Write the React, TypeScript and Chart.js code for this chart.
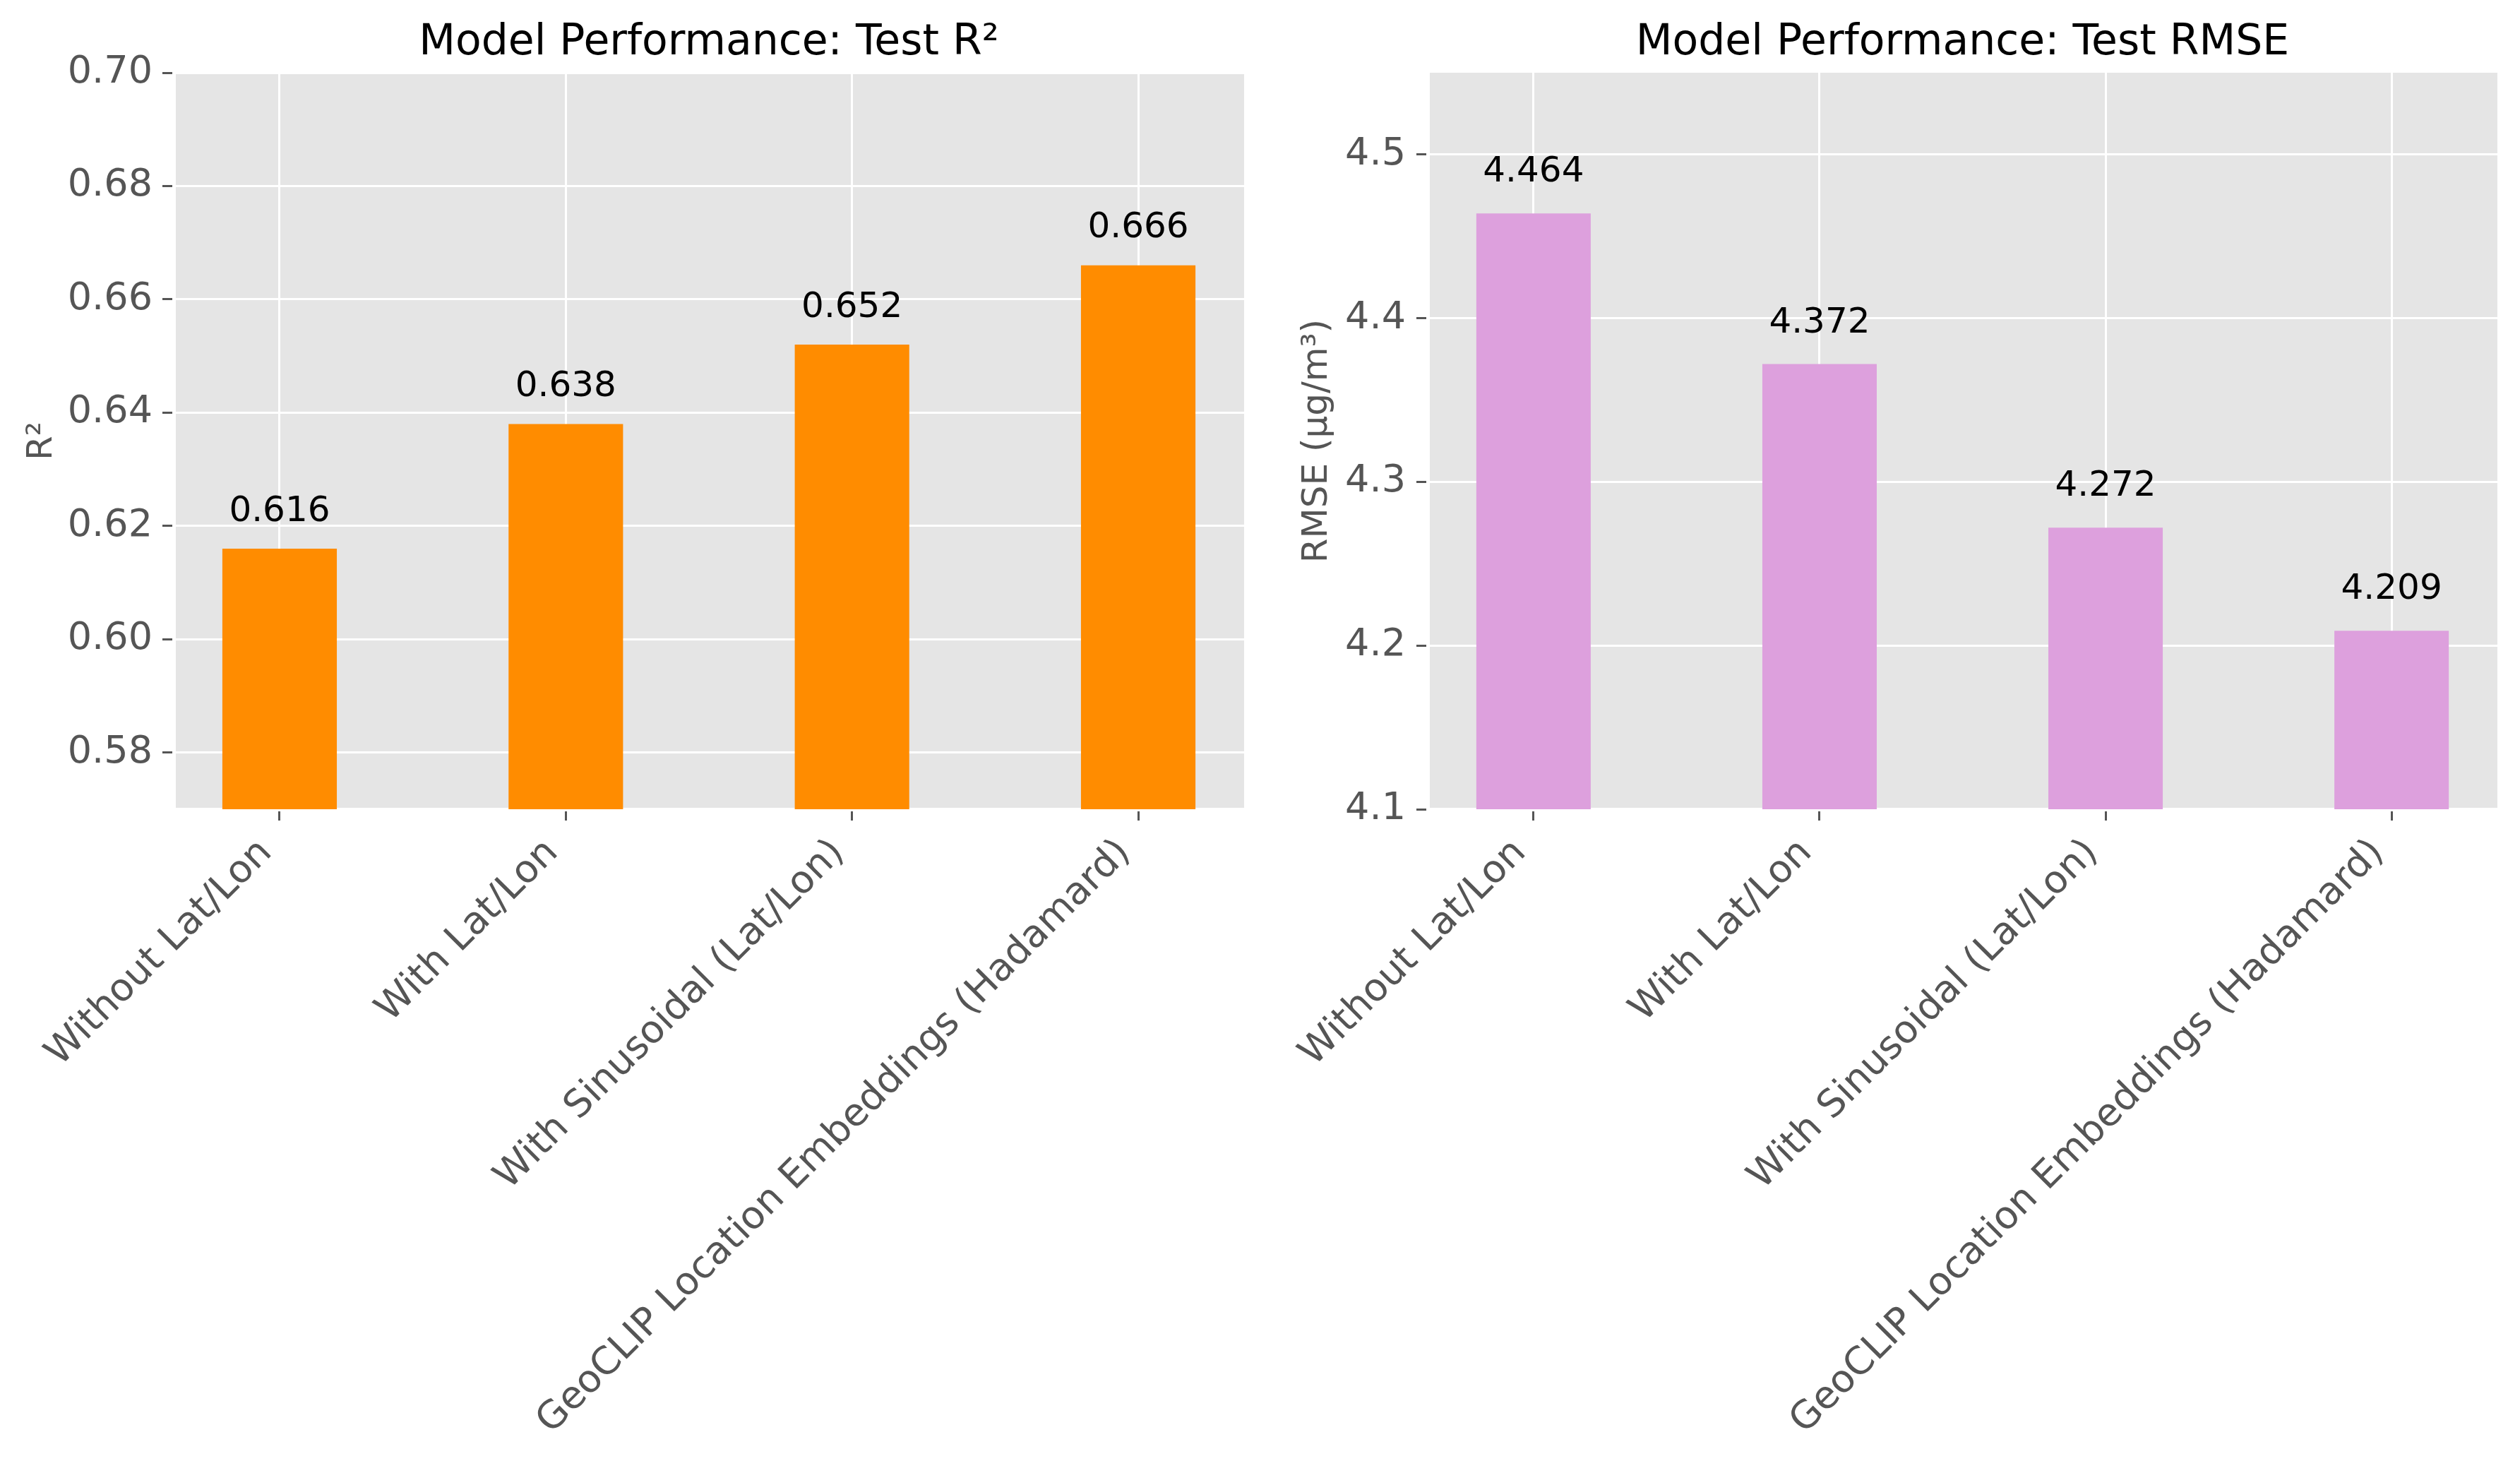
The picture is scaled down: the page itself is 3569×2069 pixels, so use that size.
import React, { useEffect, useRef } from "react";
import { Chart, registerables } from "chart.js";

Chart.register(...registerables);

// ---------- data ----------
const categories = [
  "Without Lat/Lon",
  "With Lat/Lon",
  "With Sinusoidal (Lat/Lon)",
  "GeoCLIP Location Embeddings (Hadamard)",
];
const r2Values = [0.616, 0.638, 0.652, 0.666];
const rmseValues = [4.464, 4.372, 4.272, 4.209];
const r2Ticks = [0.58, 0.6, 0.62, 0.64, 0.66, 0.68, 0.7];
const rmseTicks = [4.1, 4.2, 4.3, 4.4, 4.5];

const W = 3569;
const H = 2069;
const FONT = "'DejaVu Sans', 'Liberation Sans', sans-serif";

interface Panel {
  title: string;
  yLabel: string;
  values: number[];
  yTicks: number[];
  yMin: number;
  yMax: number;
  tickDecimals: number;
  valueDecimals: number;
  color: string;
  labelOffset: number;
  padLeft: number;
  padRight: number;
  yAxisWidth: number;
  yLabelX: number;
  tickPadding: number;
}

const panels: Panel[] = [
  {
    title: "Model Performance: Test R²",
    yLabel: "R²",
    values: r2Values,
    yTicks: r2Ticks,
    yMin: 0.57,
    yMax: 0.7,
    tickDecimals: 2,
    valueDecimals: 3,
    color: "#FF8C00",
    labelOffset: 0.0049,
    padLeft: 0,
    padRight: W - 1762,
    yAxisWidth: 246,
    yLabelX: 73,
    tickPadding: 14,
  },
  {
    title: "Model Performance: Test RMSE",
    yLabel: "RMSE (µg/m³)",
    values: rmseValues,
    yTicks: rmseTicks,
    yMin: 4.1,
    yMax: 4.55,
    tickDecimals: 1,
    valueDecimals: 3,
    color: "#DDA0DD",
    labelOffset: 0.0194,
    padLeft: 1785,
    padRight: W - 3537,
    yAxisWidth: 2022 - 1785,
    yLabelX: 1879,
    tickPadding: 15,
  },
];

function makeChart(canvas: HTMLCanvasElement, p: Panel) {
  const bgPlugin = {
    id: "bg" + p.yLabel,
    beforeDraw(chart: any) {
      const { ctx, chartArea } = chart;
      ctx.save();
      ctx.fillStyle = "#E5E5E5";
      ctx.fillRect(chartArea.left, chartArea.top, chartArea.right - chartArea.left, chartArea.bottom - chartArea.top);
      ctx.restore();
    },
  };
  const overlayPlugin = {
    id: "overlay" + p.yLabel,
    afterDraw(chart: any) {
      const { ctx, chartArea } = chart;
      const xs = chart.scales.x;
      const ys = chart.scales.y;
      ctx.save();
      // title
      ctx.fillStyle = "#000";
      ctx.font = `60px ${FONT}`;
      ctx.textAlign = "center";
      ctx.textBaseline = "alphabetic";
      ctx.fillText(p.title, (chartArea.left + chartArea.right) / 2, chartArea.top - 26);
      // value labels
      ctx.font = `50px ${FONT}`;
      p.values.forEach((v, i) => {
        ctx.fillText(v.toFixed(p.valueDecimals), xs.getPixelForValue(i), ys.getPixelForValue(v + p.labelOffset));
      });
      // y label
      ctx.fillStyle = "#555555";
      ctx.save();
      ctx.translate(p.yLabelX, (chartArea.top + chartArea.bottom) / 2);
      ctx.rotate(-Math.PI / 2);
      ctx.textAlign = "center";
      ctx.fillText(p.yLabel, 0, 0);
      ctx.restore();
      // x tick labels, matplotlib-style rotation 45, ha=right
      const fs = 54;
      ctx.font = `${fs}px ${FONT}`;
      const s = Math.SQRT1_2;
      const a = 0.76 * fs;
      const d = 0.236 * fs;
      const yTop = chartArea.bottom + 34;
      categories.forEach((lab, i) => {
        const tx = xs.getPixelForValue(i);
        const w = ctx.measureText(lab).width;
        const ox = tx - (w + d) * s;
        const oy = yTop + (w + a) * s;
        ctx.save();
        ctx.translate(ox, oy);
        ctx.rotate(-Math.PI / 4);
        ctx.textAlign = "left";
        ctx.textBaseline = "alphabetic";
        ctx.fillText(lab, 0, 0);
        ctx.restore();
      });
      ctx.restore();
    },
  };

  const gridOpts = {
    color: "#FFFFFF",
    lineWidth: 3,
    drawTicks: true,
    tickLength: 16,
    tickColor: "#555555",
    tickWidth: 3,
    offset: false,
  };
  const borderOpts = { display: true, color: "#FFFFFF", width: 5 };

  return new Chart(canvas, {
    type: "bar",
    data: {
      datasets: [
        {
          data: p.values.map((v, i) => ({ x: i, y: v })),
          backgroundColor: p.color,
          borderWidth: 0,
          categoryPercentage: 1,
          barPercentage: 0.4,
        } as any,
      ],
    },
    options: {
      animation: false,
      responsive: false,
      devicePixelRatio: 1,
      layout: { padding: { top: 103, bottom: 0, left: p.padLeft, right: p.padRight } },
      plugins: {
        legend: { display: false },
        tooltip: { enabled: false },
        title: { display: false },
      },
      scales: {
        x: {
          type: "linear",
          min: -0.37,
          max: 3.37,
          offset: false,
          afterBuildTicks: (s: any) => {
            s.ticks = categories.map((_, i) => ({ value: i }));
          },
          afterFit: (s: any) => {
            s.height = H - 1146;
          },
          ticks: { display: false },
          grid: gridOpts,
          border: borderOpts,
        },
        y: {
          type: "linear",
          min: p.yMin,
          max: p.yMax,
          afterBuildTicks: (s: any) => {
            s.ticks = p.yTicks.map((v) => ({ value: v }));
          },
          afterFit: (s: any) => {
            s.width = p.yAxisWidth;
          },
          ticks: {
            color: "#555555",
            padding: p.tickPadding,
            autoSkip: false,
            font: { family: FONT, size: 54 },
            callback: (v: any) => Number(v).toFixed(p.tickDecimals),
          },
          grid: gridOpts,
          border: borderOpts,
        },
      } as any,
    },
    plugins: [bgPlugin, overlayPlugin],
  } as any);
}

export default function App() {
  const ref1 = useRef<HTMLCanvasElement>(null);
  const ref2 = useRef<HTMLCanvasElement>(null);
  useEffect(() => {
    const c1 = makeChart(ref1.current!, panels[0]);
    const c2 = makeChart(ref2.current!, panels[1]);
    return () => {
      c1.destroy();
      c2.destroy();
    };
  }, []);
  const cstyle: React.CSSProperties = { position: "absolute", left: 0, top: 0, width: W, height: H };
  return (
    <div style={{ position: "absolute", left: 0, top: 0, width: W, height: H, background: "#fff", overflow: "hidden" }}>
      <canvas ref={ref1} width={W} height={H} style={cstyle} />
      <canvas ref={ref2} width={W} height={H} style={cstyle} />
    </div>
  );
}
